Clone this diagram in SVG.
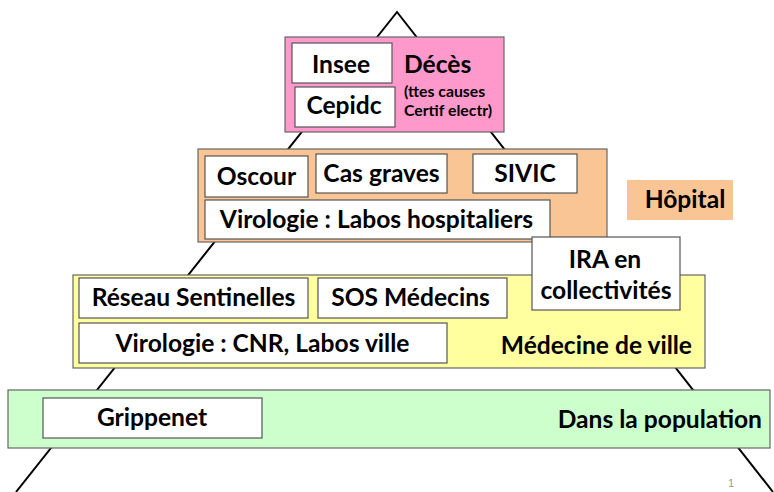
<svg xmlns="http://www.w3.org/2000/svg" width="774" height="492" viewBox="0 0 774 492">
<style>
.t{font-family:Lato,"Liberation Sans",sans-serif;font-weight:700;font-size:24.6px;fill:#000}
.s{font-family:Lato,"Liberation Sans",sans-serif;font-weight:700;font-size:15.8px;fill:#000}
.m{text-anchor:middle}
.e{text-anchor:end}
.box{fill:#fff;stroke:#555;stroke-width:1.2}
.band{stroke:#666;stroke-width:1.2}
.tri{fill:none;stroke:#000;stroke-width:2}
</style>
<rect width="774" height="492" fill="#fff"/>
<g id="connectors">
<polyline class="tri" points="16,492 397,12 773,492"/>
</g>
<g id="deces">
<rect class="band" x="285" y="37" width="219" height="95" fill="#FF99CC"/>
<text class="t" x="404" y="73">Décès</text>
<text class="s" x="404" y="97">(ttes causes</text>
<text class="s" x="404" y="116">Certif electr)</text>
</g>
<g id="insee"><rect class="box" x="292" y="43" width="100" height="40"/><text class="t m" x="341" y="73">Insee</text></g>
<g id="cepidc"><rect class="box" x="295" y="87" width="100" height="40"/><text class="t m" x="344" y="114">Cepidc</text></g>
<g id="hopital-band"><rect class="band" x="198" y="149" width="409" height="93" fill="#FAC594"/></g>
<g id="oscour"><rect class="box" x="205" y="156" width="103" height="41"/><text class="t m" x="256.5" y="185">Oscour</text></g>
<g id="cas-graves"><rect class="box" x="316" y="154" width="131" height="39"/><text class="t m" x="381.5" y="182">Cas graves</text></g>
<g id="sivic"><rect class="box" x="473" y="154" width="104" height="39"/><text class="t m" x="525" y="182">SIVIC</text></g>
<g id="virologie-hosp"><rect class="box" x="205" y="200" width="345" height="39"/><text class="t m" x="376.5" y="228">Virologie : Labos hospitaliers</text></g>
<g id="hopital"><rect x="627" y="180" width="106" height="40" fill="#FAC594"/><text class="t m" x="685" y="208">Hôpital</text></g>
<g id="ville-band">
<rect class="band" x="73" y="275" width="632" height="93" fill="#FFFF9F"/>
<text class="t e" x="692" y="354">Médecine de ville</text>
</g>
<g id="reseau-sentinelles"><rect class="box" x="79" y="278" width="229" height="40"/><text class="t m" x="193.5" y="306">Réseau Sentinelles</text></g>
<g id="sos-medecins"><rect class="box" x="318" y="278" width="189" height="40"/><text class="t m" x="410.5" y="306">SOS Médecins</text></g>
<g id="virologie-ville"><rect class="box" x="79" y="323" width="368" height="40"/><text class="t m" x="262.5" y="352">Virologie : CNR, Labos ville</text></g>
<g id="ira"><rect class="box" x="532" y="237" width="148" height="73"/><text class="t m" x="605" y="268">IRA en</text><text class="t m" x="606" y="299">collectivités</text></g>
<g id="population-band">
<rect class="band" x="8" y="390" width="762" height="58" fill="#CCFFCC"/>
<text class="t e" x="762" y="428">Dans la population</text>
</g>
<g id="grippenet"><rect class="box" x="43" y="398" width="219" height="40"/><text class="t m" x="152" y="426">Grippenet</text></g>
<text x="731" y="487" font-family="Liberation Sans, sans-serif" font-size="11" fill="#999" text-anchor="middle">1</text>
</svg>
